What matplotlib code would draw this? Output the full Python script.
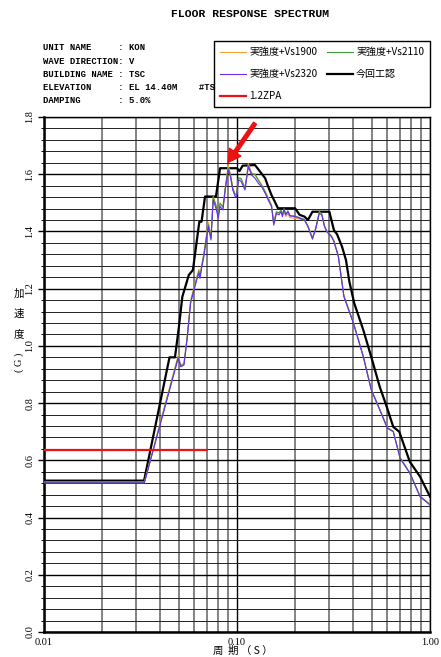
import numpy as np
import matplotlib
matplotlib.use("Agg")
import matplotlib.pyplot as plt
from matplotlib.ticker import FixedLocator, NullFormatter, FixedFormatter

# periods shared by the three "実強度" curves
period_vs = [0.010, 0.0331, 0.0496, 0.0511, 0.0531, 0.0553, 0.0575, 0.0618, 0.0635, 0.0643,
             0.0655, 0.0673, 0.0697, 0.0711, 0.0733, 0.0753, 0.0778, 0.0800, 0.0817, 0.0846,
             0.0869, 0.0900, 0.0925, 0.0951, 0.0978, 0.0995, 0.1018, 0.1050, 0.1100, 0.1145,
             0.1190, 0.1240, 0.1290, 0.1340, 0.1400, 0.1450, 0.1510, 0.1550, 0.1600, 0.1650,
             0.1690, 0.1720, 0.1750, 0.1790, 0.1835, 0.1880, 0.2000, 0.2236, 0.2330, 0.2460,
             0.2560, 0.2670, 0.2750, 0.2840, 0.2920, 0.3080, 0.3180, 0.3350, 0.3580, 0.4010,
             0.4510, 0.4960, 0.5490, 0.6010, 0.6450, 0.7000, 0.7860, 0.8880, 1.0000]

acc_vs1900 = [0.524, 0.524, 0.968, 0.932, 0.940, 1.040, 1.160, 1.240, 1.268, 1.245,
              1.280, 1.322, 1.395, 1.432, 1.380, 1.522, 1.490, 1.455, 1.500, 1.482,
              1.552, 1.632, 1.600, 1.552, 1.528, 1.528, 1.585, 1.580, 1.550, 1.636,
              1.605, 1.598, 1.582, 1.565, 1.540, 1.520, 1.492, 1.430, 1.470, 1.462,
              1.472, 1.458, 1.470, 1.452, 1.462, 1.448, 1.446, 1.440, 1.420, 1.378,
              1.412, 1.468, 1.462, 1.420, 1.402, 1.386, 1.368, 1.316, 1.176, 1.082,
              0.965, 0.849, 0.779, 0.715, 0.702, 0.610, 0.557, 0.475, 0.446]

acc_vs2110 = [0.522, 0.522, 0.962, 0.930, 0.936, 1.035, 1.155, 1.235, 1.262, 1.240,
              1.275, 1.318, 1.388, 1.424, 1.376, 1.520, 1.492, 1.456, 1.498, 1.486,
              1.550, 1.622, 1.598, 1.550, 1.530, 1.530, 1.588, 1.585, 1.552, 1.630,
              1.602, 1.600, 1.578, 1.562, 1.538, 1.515, 1.490, 1.428, 1.468, 1.466,
              1.474, 1.456, 1.480, 1.460, 1.472, 1.456, 1.454, 1.442, 1.419, 1.376,
              1.412, 1.470, 1.460, 1.419, 1.401, 1.384, 1.366, 1.314, 1.174, 1.081,
              0.964, 0.848, 0.778, 0.714, 0.701, 0.609, 0.556, 0.474, 0.445]

acc_vs2320 = [0.521, 0.521, 0.957, 0.927, 0.933, 1.030, 1.149, 1.230, 1.254, 1.236,
              1.270, 1.312, 1.382, 1.417, 1.370, 1.510, 1.481, 1.446, 1.487, 1.475,
              1.545, 1.615, 1.591, 1.545, 1.522, 1.522, 1.580, 1.575, 1.545, 1.627,
              1.597, 1.586, 1.568, 1.557, 1.533, 1.510, 1.487, 1.422, 1.463, 1.458,
              1.469, 1.452, 1.477, 1.458, 1.469, 1.454, 1.452, 1.440, 1.417, 1.373,
              1.410, 1.463, 1.458, 1.417, 1.399, 1.382, 1.364, 1.312, 1.172, 1.079,
              0.962, 0.846, 0.776, 0.712, 0.700, 0.607, 0.555, 0.473, 0.444]

# 今回工認 (envelope)
period_kon = [0.010, 0.0330, 0.0447, 0.0477, 0.0499, 0.0521, 0.0563, 0.0591, 0.0638, 0.0655,
              0.0683, 0.0778, 0.0817, 0.1000, 0.1030, 0.1070, 0.1240, 0.1317, 0.1399, 0.1450,
              0.1510, 0.1570, 0.1630, 0.2000, 0.2110, 0.2236, 0.2330, 0.2460, 0.3010, 0.3180,
              0.3300, 0.3500, 0.3670, 0.3820, 0.4050, 0.4510, 0.4960, 0.5490, 0.5970, 0.6450,
              0.6930, 0.7860, 0.8880, 1.0000]
acc_kon = [0.529, 0.529, 0.960, 0.960, 1.061, 1.172, 1.248, 1.265, 1.434, 1.434,
           1.522, 1.522, 1.621, 1.621, 1.611, 1.630, 1.632, 1.609, 1.586, 1.557,
           1.527, 1.504, 1.481, 1.481, 1.458, 1.452, 1.440, 1.469, 1.469, 1.404,
           1.390, 1.347, 1.300, 1.225, 1.149, 1.056, 0.962, 0.857, 0.787, 0.717,
           0.700, 0.595, 0.543, 0.473]

# 1.2ZPA
period_zpa = [0.010, 0.070]
acc_zpa = [0.636, 0.636]

info_lines = ["UNIT NAME     : KON",
              "WAVE DIRECTION: V",
              "BUILDING NAME : TSC",
              "ELEVATION     : EL 14.40M    #TSC2",
              "DAMPING       : 5.0%"]

W, H = 441, 657
fig = plt.figure(figsize=(W / 100, H / 100), dpi=100)
ax = fig.add_axes([44 / W, 1 - 632 / H, (430 - 44) / W, (632 - 117) / H])

ax.set_xscale("log")
ax.set_xlim(0.01, 1.0)
ax.set_ylim(0, 1.8)

# grid
ax.xaxis.set_major_locator(FixedLocator([0.01, 0.1, 1.0]))
ax.xaxis.set_minor_locator(FixedLocator([k * 10.0 ** e for e in (-2, -1) for k in range(2, 10)]))
ax.xaxis.set_major_formatter(FixedFormatter(["0.01", "0.10", "1.00"]))
ax.xaxis.set_minor_formatter(NullFormatter())
ax.yaxis.set_major_locator(FixedLocator(np.arange(0, 1.81, 0.2)))
ax.yaxis.set_minor_locator(FixedLocator(np.arange(0, 1.81, 0.04)))
ax.set_yticklabels(["%.1f" % v for v in np.arange(0, 1.81, 0.2)])

ax.grid(True, which="major", axis="both", color="black", lw=1.0, zorder=0)
ax.grid(True, which="minor", axis="y", color="#222222", lw=0.7, zorder=0)
ax.grid(True, which="minor", axis="x", color="#7a7a7a", lw=1.3, zorder=0)
ax.set_axisbelow(True)

for side in ["left", "bottom"]:
    ax.spines[side].set_linewidth(1.8)
for side in ["top", "right"]:
    ax.spines[side].set_linewidth(1.0)

ax.tick_params(axis="y", which="major", direction="out", length=4, width=1, pad=3,
               labelsize=7.5, labelrotation=90)
ax.tick_params(axis="y", which="minor", direction="out", length=2, width=0.7)
ax.tick_params(axis="x", which="both", length=0, pad=4, labelsize=7.5)
for lab in ax.get_yticklabels():
    lab.set_family("Liberation Serif")
    lab.set_va("center")
for lab in ax.get_xticklabels():
    lab.set_family("Liberation Serif")

# curves
l_kon, = ax.plot(period_kon, acc_kon, color="black", lw=1.6, zorder=3, label="今回工認")
l_1900, = ax.plot(period_vs, acc_vs1900, color="#f5a431", lw=0.8, zorder=4, label="実強度+Vs1900")
l_2110, = ax.plot(period_vs, acc_vs2110, color="#3c9a3c", lw=0.8, zorder=4, label="実強度+Vs2110")
l_2320, = ax.plot(period_vs, acc_vs2320, color="#6b2cf0", lw=0.8, zorder=5, label="実強度+Vs2320")
l_zpa, = ax.plot(period_zpa, acc_zpa, color="#ee1111", lw=1.6, zorder=5, label="1.2ZPA")

# red arrow pointing at the peak
ax.annotate("", xy=(0.0898, 1.641), xytext=(0.124, 1.778),
            arrowprops=dict(facecolor="#ee1111", edgecolor="#ee1111",
                            width=2.6, headwidth=10, headlength=9), zorder=6)

# legend
leg = fig.legend(handles=[l_1900, l_2320, l_zpa, l_2110, l_kon], ncol=2,
                 loc="lower left", bbox_to_anchor=(214 / W, 1 - 107 / H, 216 / W, 70 / H),
                 mode="expand", fancybox=False, edgecolor="black", framealpha=1,
                 prop={"family": ["Noto Sans CJK JP", "DejaVu Sans"], "size": 7.2},
                 handlelength=2.6, handletextpad=0.3, labelspacing=1.2,
                 borderpad=0.6, borderaxespad=0, columnspacing=1.0)
leg.get_frame().set_linewidth(1.0)
leg.set_zorder(10)

# header texts
fig.text(250 / W, 1 - 14 / H, "FLOOR RESPONSE SPECTRUM", ha="center", va="center",
         family="Liberation Mono", fontsize=8.2, weight="bold")
for i, line in enumerate(info_lines):
    fig.text(43 / W, 1 - (48 + 13.1 * i) / H, line, ha="left", va="center",
             family="Liberation Mono", fontsize=6.4, weight="bold", zorder=1)

# axis titles
cjk = ["Noto Sans CJK JP", "DejaVu Sans"]
for ch, yy in zip(["加", "速", "度"], [294, 314, 334]):
    fig.text(19 / W, 1 - yy / H, ch, ha="center", va="center", family=cjk, fontsize=7.5)
fig.text(19 / W, 1 - 362 / H, "( G )", ha="center", va="center", rotation=90,
         family="Liberation Serif", fontsize=7.5)
fig.text(243 / W, 1 - 651 / H, "周  期 （ S ）", ha="center", va="center",
         family=cjk, fontsize=7.5)

fig.savefig("out.png", dpi=100)
